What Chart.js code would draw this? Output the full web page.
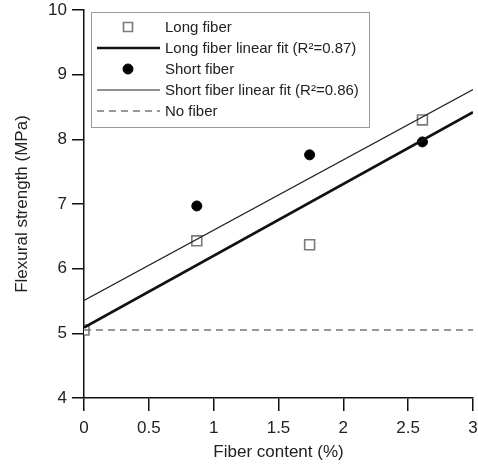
<!DOCTYPE html>
<html>
<head>
<meta charset="utf-8">
<script src="https://cdn.jsdelivr.net/npm/chart.js@4"></script>
<style>
	html, body { margin: 0; padding: 0; background: #fff; }
	#wrap { width: 478px; height: 465px; }
</style>
</head>
<body>
<div id="wrap"><canvas id="ChartFlexural"></canvas></div>
<script>
// --------------
// DATA
// --------------
const fiberContent = [0, 0.87, 1.74, 2.61];
const longFiber = [5.05, 6.43, 6.37, 8.3];
const shortFiber = [null, 6.97, 7.76, 7.96];
const fitRange = [0, 3];
const longFit = [5.09, 8.42];
const shortFit = [5.51, 8.77];
const noFiber = [5.05, 5.05];
const xTicks = [0, 0.5, 1, 1.5, 2, 2.5, 3];
const yTicks = [4, 5, 6, 7, 8, 9, 10];

const toPoints = (xs, ys) => xs.map((x, i) => ({ x: x, y: ys[i] })).filter(p => p.y !== null);

// --------------
// LEGEND (inside plot, boxed)
// --------------
const boxLegend = {
	id: "boxLegend",
	afterDraw(chart) {
		const ctx = chart.ctx;
		const order = [3, 0, 4, 1, 2];
		const left = 91, top = 12, width = 278, rowH = 21;
		ctx.save();
		ctx.strokeStyle = "#9a9a9a";
		ctx.lineWidth = 1;
		ctx.strokeRect(left + 0.5, top + 0.5, width, 115);
		ctx.font = "15px 'Liberation Sans', Arial, sans-serif";
		ctx.textBaseline = "middle";
		order.forEach((di, row) => {
			const ds = chart.data.datasets[di];
			const y = top + 15 + row * rowH;
			if (ds.showLine) {
				ctx.beginPath();
				ctx.strokeStyle = ds.borderColor;
				ctx.lineWidth = ds.borderWidth;
				ctx.setLineDash(ds.borderDash || []);
				ctx.moveTo(97, y);
				ctx.lineTo(160, y);
				ctx.stroke();
				ctx.setLineDash([]);
			} else {
				ctx.fillStyle = ds.backgroundColor;
				ctx.strokeStyle = ds.borderColor;
				ctx.lineWidth = ds.borderWidth;
				ctx.beginPath();
				if (ds.pointStyle === "rect") {
					ctx.rect(123.5, y - 4.5, 9, 9);
				} else {
					ctx.arc(128, y, 5, 0, Math.PI * 2);
				}
				ctx.fill();
				ctx.stroke();
			}
			ctx.fillStyle = "#222";
			ctx.fillText(ds.label, 165, y + 1);
		});
		ctx.restore();
	}
};

// --------------
// CONFIG CHART
// --------------
const dataFlexural = {
	datasets: [
		{
			label: "Long fiber linear fit (R²=0.87)",
			data: toPoints(fitRange, longFit),
			showLine: true,
			borderColor: "#111",
			borderWidth: 2.6,
			pointRadius: 0,
		},
		{
			label: "Short fiber linear fit (R²=0.86)",
			data: toPoints(fitRange, shortFit),
			showLine: true,
			borderColor: "#222",
			borderWidth: 1.2,
			pointRadius: 0,
		},
		{
			label: "No fiber",
			data: toPoints(fitRange, noFiber),
			showLine: true,
			borderColor: "#777",
			borderWidth: 1.5,
			borderDash: [7, 5],
			pointRadius: 0,
		},
		{
			label: "Long fiber",
			data: toPoints(fiberContent, longFiber),
			showLine: false,
			pointStyle: "rect",
			pointRadius: 7,
			borderWidth: 1.6,
			borderColor: "#7a7a7a",
			backgroundColor: "#fff",
		},
		{
			label: "Short fiber",
			data: toPoints(fiberContent, shortFiber),
			showLine: false,
			pointStyle: "circle",
			pointRadius: 5,
			borderWidth: 1,
			borderColor: "#000",
			backgroundColor: "#000",
		},
	],
};

const axisFont = { family: "'Liberation Sans', Arial, sans-serif", size: 17 };

const configFlexural = {
	type: "scatter",
	data: dataFlexural,
	plugins: [boxLegend],
	options: {
		responsive: true,
		maintainAspectRatio: false,
		animation: false,
		layout: { autoPadding: false, padding: { top: 10, right: 5, left: 0, bottom: 0 } },
		plugins: {
			legend: { display: false },
			tooltip: { enabled: false },
		},
		scales: {
			x: {
				type: "linear",
				min: 0,
				max: 3,
				afterBuildTicks: (scale) => { scale.ticks = xTicks.map(v => ({ value: v })); },
				afterFit: (scale) => {
					scale.height = 67;
					scale.paddingLeft = 0;
					scale.paddingRight = 0;
				},
				ticks: { color: "#222", font: axisFont, padding: 7, maxRotation: 0, callback: (v) => String(v) },
				grid: { drawOnChartArea: false, drawTicks: true, tickLength: 13, color: "#111", lineWidth: 1.5 },
				border: { display: true, color: "#111", width: 1.5 },
				title: { display: true, text: "Fiber content (%)", color: "#222", font: axisFont, padding: { top: 0, bottom: 2 } },
			},
			y: {
				type: "linear",
				min: 4,
				max: 10,
				afterBuildTicks: (scale) => { scale.ticks = yTicks.map(v => ({ value: v })); },
				afterFit: (scale) => {
					scale.width = 84;
					scale.paddingTop = 0;
					scale.paddingBottom = 0;
				},
				ticks: { color: "#222", font: axisFont, padding: 5, callback: (v) => String(v) },
				grid: { drawOnChartArea: false, drawTicks: true, tickLength: 12, color: "#111", lineWidth: 1.5 },
				border: { display: true, color: "#111", width: 1.5 },
				title: { display: true, text: "Flexural strength (MPa)", color: "#222", font: axisFont, padding: { top: 12, bottom: 4 } },
			},
		},
	},
};

const ChartFlexural = new Chart(
	document.getElementById("ChartFlexural"),
	configFlexural
);
</script>
</body>
</html>
